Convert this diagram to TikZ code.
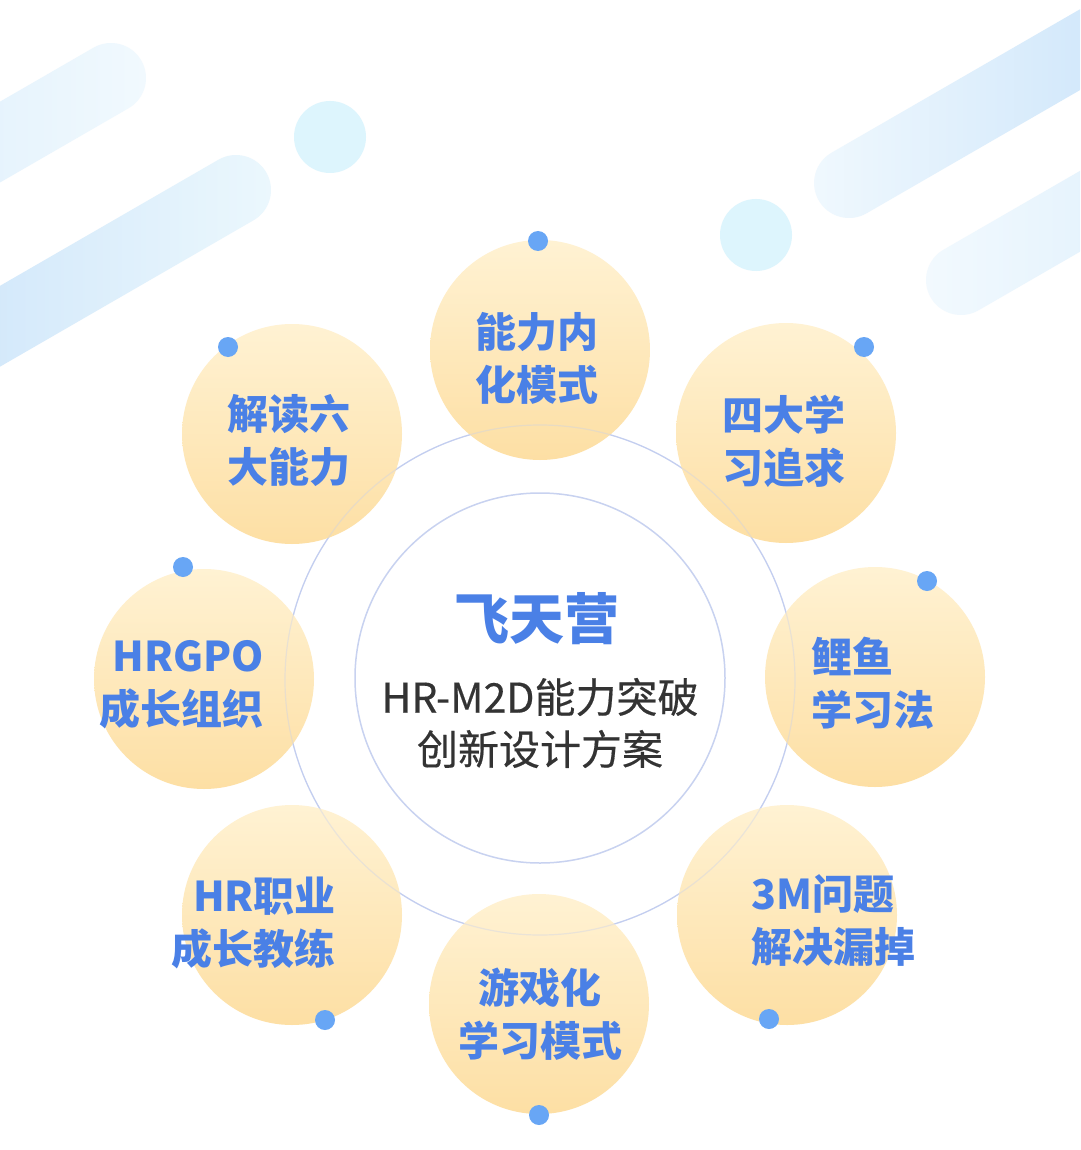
\documentclass[tikz,border=0pt]{standalone}
\usepackage{fontspec}
\setmainfont{Noto Sans CJK SC}
\newfontfamily\subfont{Noto Sans CJK SC}[FakeBold=0.4]
\definecolor{cTop}{HTML}{FFF2D3}
\definecolor{cBot}{HTML}{FDDFA4}
\definecolor{cDot}{HTML}{68A6F5}
\definecolor{cBlue}{HTML}{4A80E6}
\definecolor{cRing}{HTML}{C3CEF0}
\definecolor{cCore}{HTML}{C8D2F0}
\definecolor{cBubble}{HTML}{DDF5FD}
\definecolor{cDark}{HTML}{333333}
\begin{document}
\begin{tikzpicture}[x=1pt,y=-1pt,
  bubble/.style={circle, minimum size=220pt, inner sep=0pt, top color=cTop, bottom color=cBot, draw=none},
  dotnode/.style={circle, minimum size=20pt, inner sep=0pt, fill=cDot, draw=none},
  lbl/.style={inner sep=0pt, text=cBlue, font=\bfseries\fontsize{41}{53}\selectfont},
  stripe/.style={rectangle, rounded corners=35pt, minimum height=70pt, inner sep=0pt, rotate=30, draw=none},
  lightbub/.style={circle, inner sep=0pt, fill=cBubble, minimum size=72pt, draw=none}
]
\useasboundingbox (0,0) rectangle (1080,1150);
\fill[white] (0,0) rectangle (1080,1150);
\begin{scope}
\clip (0,0) rectangle (1080,1150);
% background stripes
\node[stripe, minimum width=400pt, left color={rgb,255:red,214;green,234;blue,251}, right color={rgb,255:red,242;green,250;blue,254}] (s1) at (-31.9,160.5) {};
\node[stripe, minimum width=600pt, left color={rgb,255:red,190;green,219;blue,248}, right color={rgb,255:red,236;green,248;blue,253}] (s2) at (6.5,322.5) {};
\node[stripe, minimum width=450pt, left color={rgb,255:red,241;green,249;blue,254}, right color={rgb,255:red,196;green,224;blue,249}] (s3) at (1013.6,88) {};
\node[stripe, minimum width=400pt, left color={rgb,255:red,243;green,250;blue,254}, right color={rgb,255:red,214;green,235;blue,252}] (s4) at (1103.9,197.5) {};
\end{scope}
% light bubbles
\node[lightbub] (b1) at (330,137) {};
\node[lightbub] (b2) at (756,235) {};
% big ring
\node[circle, minimum size=510pt, inner sep=0pt, draw=cRing, line width=1.2pt] (ring) at (540,680) {};
% core
\node[circle, minimum size=370pt, inner sep=0pt, fill=white, draw=cCore, line width=1.5pt] (core) at (540,678) {};
% yellow circles
\node[bubble] (c1) at (540,350) {};
\node[bubble] (c2) at (786,433) {};
\node[bubble] (c3) at (875,677) {};
\node[bubble] (c4) at (787,915) {};
\node[bubble] (c5) at (539,1004) {};
\node[bubble] (c6) at (292,915) {};
\node[bubble] (c7) at (204,679) {};
\node[bubble] (c8) at (292,434) {};
% faint ring over circles
\draw[cRing, line width=1.2pt, opacity=0.35] (ring.center) circle[radius=255];
% dots
\node[dotnode] (d1) at (538,241) {};
\node[dotnode] (d2) at (864,347) {};
\node[dotnode] (d3) at (927,581) {};
\node[dotnode] (d4) at (769,1019) {};
\node[dotnode] (d5) at (539,1115) {};
\node[dotnode] (d6) at (325,1020) {};
\node[dotnode] (d7) at (183,567) {};
\node[dotnode] (d8) at (228,347) {};
% labels
\node[lbl, align=center] (t1) at (537,358) {能力内\\化模式};
\node[lbl, align=center] (t2) at (784,441) {四大学\\习追求};
\node[lbl, align=left, anchor=west] (t3) at (811,683.5) {鲤鱼\\学习法};
\node[lbl, align=left, anchor=west] (t4) at (751,921) {3M问题\\解决漏掉};
\node[lbl, align=center] (t5) at (540,1014) {游戏化\\学习模式};
\node[lbl, align=right, anchor=east] (t6) at (336,922.5) {HR职业\\成长教练};
\node[lbl, align=right, anchor=east] (t7) at (264,684.5) {HRGPO\\成长组织};
\node[lbl, align=center] (t8) at (289,441) {解读六\\大能力};
% center text
\node[inner sep=0pt, text=cBlue, font=\bfseries\fontsize{55}{60}\selectfont] (title) at (537,619) {飞天营};
\node[inner sep=0pt, text=cDark, align=center, font=\subfont\fontsize{41}{52}\selectfont] (sub) at (540,723) {HR-M2D能力突破\\创新设计方案};
\end{tikzpicture}
\end{document}
